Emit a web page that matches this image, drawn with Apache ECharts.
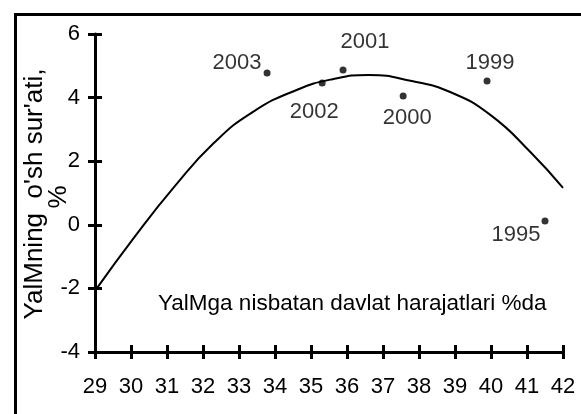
<!DOCTYPE html>
<html>
<head>
<meta charset="utf-8">
<script src="https://cdn.jsdelivr.net/npm/echarts@6/dist/echarts.min.js"></script>
<style>
  html, body { margin: 0; padding: 0; background: #fff; }
  #chart { width: 581px; height: 414px; }
</style>
</head>
<body>
<div id="chart"></div>
<script>
// observed points (x = govt spending % of GDP, y = GDP growth %)
const years = ['2003', '2002', '2001', '2000', '1999', '1995'];
const spending = [33.78, 35.31, 35.89, 37.56, 39.89, 41.5];
const growth = [4.77, 4.46, 4.87, 4.05, 4.52, 0.12];

// trend curve
const trendX = [29.05, 30.1, 31.2, 32.3, 33.4, 34.6, 35.6, 36.6, 37.8, 38.9, 40.0, 41.1, 42];
const trendY = [-2.0, -0.38, 1.19, 2.57, 3.56, 4.24, 4.58, 4.71, 4.52, 4.16, 3.44, 2.28, 1.16];

const xTicks = [29, 42, 1];
const yTicks = [-4, 6, 2];

const FONT = "'Liberation Sans', Arial, sans-serif";

// where each year label sits relative to its dot
const labelOffsets = {
    '2003': [-30, -10],
    '2002': [-8, 29],
    '2001': [22, -28],
    '2000': [4, 22],
    '1999': [3, -18],
    '1995': [-29, 14]
};

const chart = echarts.init(document.getElementById('chart'));

const tickStyle = { color: '#000', width: 3 };

function rotatedText(text, x, y) {
    return {
        type: 'text',
        x: x, y: y,
        rotation: Math.PI / 2,
        style: {
            text: text,
            font: '26px ' + FONT,
            align: 'center',
            verticalAlign: 'middle',
            fill: '#000'
        }
    };
}

const option = {
    animation: false,
    grid: { left: 95, right: 18, top: 34, bottom: 62, outerBoundsMode: 'none', containLabel: false },
    graphic: [
        {
            type: 'rect',
            left: 13, top: 12,
            shape: { width: 620, height: 460 },
            style: { fill: 'none', stroke: '#000', lineWidth: 3 }
        },
        {
            type: 'text',
            left: 158, top: 292,
            style: {
                text: 'YalMga nisbatan davlat harajatlari %da',
                font: '22.5px ' + FONT,
                fill: '#000'
            }
        },
        // y axis title, two rotated lines
        rotatedText("YalMning  o'sh sur'ati,", 35, 194),
        rotatedText('%', 59, 197)
    ],
    xAxis: [
        {
            type: 'value', min: xTicks[0], max: xTicks[1], interval: xTicks[2],
            axisLine: { show: true, onZero: false, lineStyle: { color: '#000', width: 3 } },
            axisTick: { show: true, inside: false, length: 7, lineStyle: tickStyle },
            axisLabel: { color: '#000', fontFamily: FONT, fontSize: 22, margin: 24 },
            splitLine: { show: false }
        },
        {
            type: 'value', min: xTicks[0], max: xTicks[1], interval: xTicks[2], position: 'bottom',
            axisLine: { show: false, onZero: false },
            axisTick: { show: true, inside: true, length: 7, lineStyle: tickStyle },
            axisLabel: { show: false },
            splitLine: { show: false }
        }
    ],
    yAxis: [
        {
            type: 'value', min: yTicks[0], max: yTicks[1], interval: yTicks[2],
            axisLine: { show: true, onZero: false, lineStyle: { color: '#000', width: 3 } },
            axisTick: { show: true, inside: false, length: 7, lineStyle: tickStyle },
            axisLabel: { color: '#000', fontFamily: FONT, fontSize: 22, margin: 15 },
            splitLine: { show: false }
        },
        {
            type: 'value', min: yTicks[0], max: yTicks[1], interval: yTicks[2], position: 'left',
            axisLine: { show: false, onZero: false },
            axisTick: { show: true, inside: true, length: 7, lineStyle: tickStyle },
            axisLabel: { show: false },
            splitLine: { show: false }
        }
    ],
    series: [
        {
            type: 'line',
            smooth: 0.5,
            symbol: 'none',
            data: trendX.map((x, i) => [x, trendY[i]]),
            lineStyle: { color: '#000', width: 2 },
            z: 2
        },
        {
            type: 'scatter',
            symbolSize: 7,
            itemStyle: { color: '#000' },
            data: years.map((yr, i) => ({
                value: [spending[i], growth[i]],
                name: yr,
                label: { offset: labelOffsets[yr] }
            })),
            label: {
                show: true,
                position: 'inside',
                align: 'center',
                verticalAlign: 'middle',
                formatter: p => p.name,
                color: '#000',
                fontFamily: FONT,
                fontSize: 22
            },
            z: 3
        }
    ]
};

chart.setOption(option);
</script>
</body>
</html>
